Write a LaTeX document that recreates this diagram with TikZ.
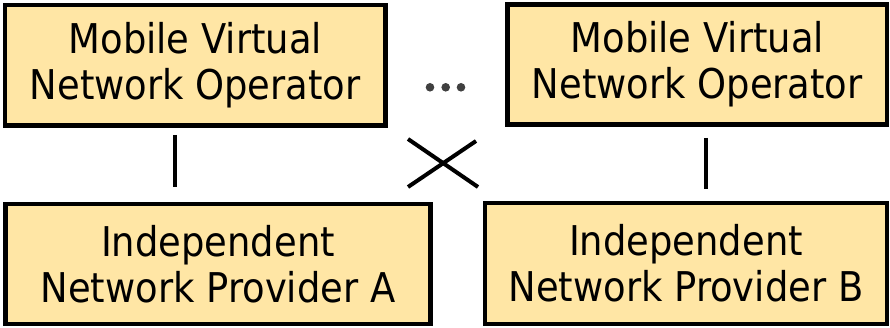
\documentclass[tikz,border=0pt]{standalone}
\usepackage{fontspec}
\setmainfont{DejaVu Sans}[FakeStretch=0.9]
\definecolor{boxfill}{RGB}{255,230,165}
\definecolor{dotgray}{RGB}{64,64,64}
\begin{document}
\begin{tikzpicture}[x=1pt,y=-1pt,
  entity/.style={draw=black, fill=boxfill, line width=4.5pt, rectangle,
    align=center, inner sep=0pt, outer sep=0pt,
    font=\fontsize{41}{46}\selectfont},
  link/.style={draw=black, line width=4pt},
  ellipsisdot/.style={circle, fill=dotgray, minimum size=8.6pt, inner sep=0pt}]
\useasboundingbox (0,0) rectangle (890,328);

% operators (top row)
\node[entity, minimum width=380.5pt, minimum height=120.5pt] (tl) at (195.25,65.25)
  {Mobile Virtual\\Network Operator};
\node[entity, minimum width=379.5pt, minimum height=120pt] (tr) at (697.25,64.5)
  {Mobile Virtual\\Network Operator};

% providers (bottom row)
\node[entity, minimum width=425pt, minimum height=120pt] (bl) at (218,264)
  {Independent\\Network Provider A};
\node[entity, minimum width=402pt, minimum height=121pt] (br) at (686,263.5)
  {Independent\\Network Provider B};

% ellipsis between the operators
\node[ellipsisdot] (d1) at (430,87.3) {};
\node[ellipsisdot] (d2) at (445.7,87.3) {};
\node[ellipsisdot] (d3) at (461,87.3) {};

% direct links
\draw[link] ([shift={(-20.75,9.5)}]tl.south) -- ([shift={(-43.5,-17)}]bl.north);
\draw[link] ([shift={(8.25,13.5)}]tr.south) -- ([shift={(19.5,-14)}]br.north);

% crossed links
\draw[link] ([shift={(22.5,13.5)}]tl.south east) -- ([shift={(-7,-16)}]br.north west);
\draw[link] ([shift={(-31.5,16.5)}]tr.south west) -- ([shift={(-22.5,-17)}]bl.north east);
\end{tikzpicture}
\end{document}
